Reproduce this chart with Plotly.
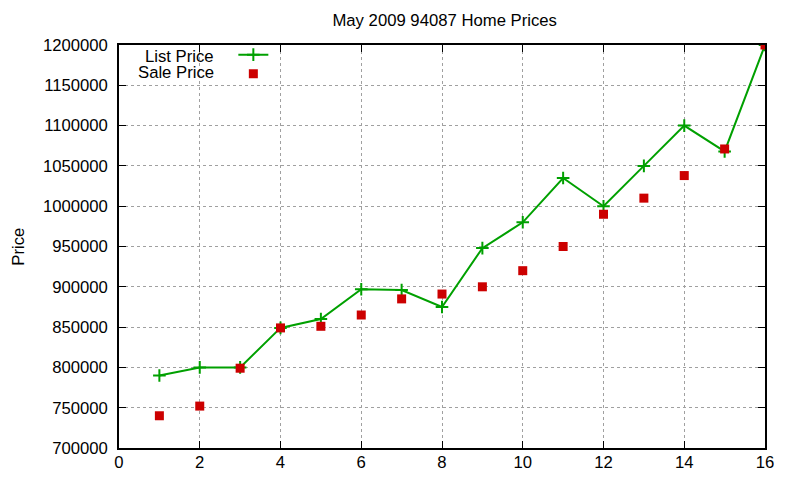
import plotly.graph_objects as go

# house index in the listing (x axis)
homes = list(range(1, 17))

# prices
list_price = [790000, 800000, 800000, 849000, 860000, 897000, 896000, 875000,
              948000, 980000, 1035000, 1000000, 1050000, 1100000, 1068000, 1200000]
sale_price = [740000, 752000, 799000, 849000, 851000, 865000, 885000, 891000,
              900000, 920000, 950000, 990000, 1010000, 1038000, 1071000, 1200000]

x_ticks = list(range(0, 17, 2))
y_ticks = list(range(700000, 1200001, 50000))
y_tick_text = [str(v) for v in y_ticks]

GREEN = '#00a000'
RED = '#cc0000'
FONT = 'Liberation Sans, Arial, sans-serif'
FS = 16.7

fig = go.Figure()
fig.add_trace(go.Scatter(
    x=homes, y=list_price, name='List Price', mode='lines+markers',
    line=dict(color=GREEN, width=2),
    marker=dict(symbol='cross-thin', size=9, line=dict(color=GREEN, width=2)),
))
fig.add_trace(go.Scatter(
    x=homes, y=sale_price, name='Sale Price', mode='markers',
    marker=dict(symbol='square', size=9, color=RED),
))

axis_common = dict(
    showline=True, linecolor='black', linewidth=1.5, mirror='allticks',
    ticks='inside', ticklen=7, tickcolor='black', automargin=False,
    showgrid=True, gridcolor='#a0a0a0', griddash='dot', gridwidth=1,
    zeroline=False, tickfont=dict(family=FONT, size=FS, color='black'),
)

# page body has an 8px margin, so the figure is 16px smaller than the window
fig.update_layout(
    width=784, height=464,
    plot_bgcolor='white', paper_bgcolor='white',
    margin=dict(l=110.5, r=27, t=37, b=24),
    title=dict(text='May 2009 94087 Home Prices', x=0.557, xanchor='center',
               y=0.974, yanchor='middle',
               font=dict(family=FONT, size=FS, color='black')),
    xaxis=dict(range=[0, 16], tickvals=x_ticks, ticklabelstandoff=-2, **axis_common),
    yaxis=dict(range=[700000, 1200000], tickvals=y_ticks, ticktext=y_tick_text,
               ticklabelstandoff=6, **axis_common),
    showlegend=True,
    legend=dict(x=0.177, y=1.012, xanchor='left', yanchor='top',
                bgcolor='rgba(0,0,0,0)', tracegroupgap=0,
                font=dict(family=FONT, size=8, color='rgba(0,0,0,0)')),
    annotations=[
        dict(text='List Price', xref='paper', yref='paper', x=0.1508, y=0.9727,
             xanchor='right', yanchor='middle', showarrow=False,
             font=dict(family=FONT, size=FS, color='black')),
        dict(text='Sale Price', xref='paper', yref='paper', x=0.1508, y=0.933,
             xanchor='right', yanchor='middle', showarrow=False,
             font=dict(family=FONT, size=FS, color='black')),
        dict(text='Price', xref='paper', yref='paper', x=-0.156, y=0.5,
             xanchor='center', yanchor='middle', textangle=-90, showarrow=False,
             font=dict(family=FONT, size=FS, color='black')),
    ],
)

fig.write_html('out.html')
